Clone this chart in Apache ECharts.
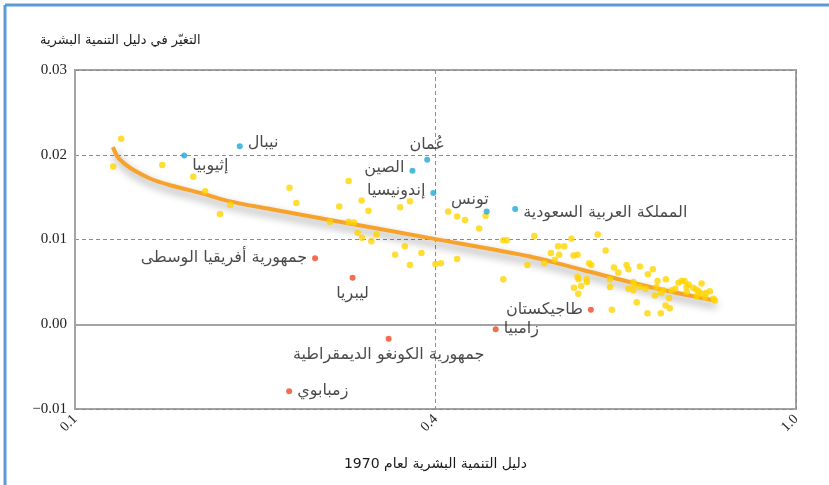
<!DOCTYPE html>
<html>
<head>
<meta charset="utf-8">
<script src="https://cdn.jsdelivr.net/npm/echarts@6/dist/echarts.min.js"></script>
<style>
  html, body { margin: 0; padding: 0; background: #fff; }
  #main { width: 829px; height: 485px; }
</style>
</head>
<body>
<div id="main"></div>
<script>
// x is read as a position on the axis: 0 = 0.1, 1 = 0.4, 2 = 1.0
const xTicks = ['0.1', '0.4', '1.0'];
const yTicks = [-0.01, 0, 0.01, 0.02, 0.03];

// other countries (yellow)
const otherX = [0.128, 0.106, 0.242, 0.328, 0.361, 0.431, 0.402, 0.595, 0.614, 0.759,
  0.733, 0.707, 0.759, 0.774, 0.784, 0.795, 0.814, 0.929, 0.902, 0.796,
  0.836, 0.822, 0.915, 0.888, 0.961, 0.929, 1.000, 1.015, 1.060, 1.035,
  1.060, 1.082, 1.139, 1.121, 1.188, 1.198, 1.274, 1.377, 1.450, 1.340,
  1.357, 1.320, 1.343, 1.331, 1.383, 1.394, 1.472, 1.302, 1.255, 1.426,
  1.432, 1.188, 1.394, 1.397, 1.419, 1.420, 1.384, 1.404, 1.396, 1.489,
  1.484, 1.484, 1.495, 1.507, 1.530, 1.535, 1.567, 1.603, 1.589, 1.549,
  1.551, 1.535, 1.549, 1.567, 1.583, 1.616, 1.639, 1.613, 1.609, 1.626,
  1.632, 1.655, 1.665, 1.674, 1.683, 1.691, 1.702, 1.696, 1.715, 1.723,
  1.730, 1.738, 1.738, 1.750, 1.761, 1.771, 1.775, 1.558, 1.648, 1.638,
  1.650, 1.588, 1.625, 1.724, 1.748, 1.697];
const otherY = [0.0219, 0.0186, 0.0188, 0.0174, 0.0157, 0.0141, 0.0130, 0.0161, 0.0143, 0.0169,
  0.0139, 0.0121, 0.0121, 0.0120, 0.0108, 0.0146, 0.0134, 0.0145, 0.0138, 0.0102,
  0.0106, 0.0098, 0.0092, 0.0082, 0.0084, 0.0070, 0.0071, 0.0072, 0.0077, 0.0133,
  0.0127, 0.0123, 0.0128, 0.0113, 0.0099, 0.0099, 0.0104, 0.0101, 0.0106, 0.0092,
  0.0092, 0.0084, 0.0082, 0.0076, 0.0081, 0.0082, 0.0087, 0.0072, 0.0070, 0.0072,
  0.0070, 0.0053, 0.0056, 0.0053, 0.0053, 0.0050, 0.0043, 0.0045, 0.0036, 0.0017,
  0.0053, 0.0044, 0.0067, 0.0061, 0.0070, 0.0065, 0.0068, 0.0065, 0.0059, 0.0050,
  0.0046, 0.0042, 0.0040, 0.0044, 0.0042, 0.0051, 0.0053, 0.0044, 0.0034, 0.0037,
  0.0040, 0.0040, 0.0042, 0.0049, 0.0051, 0.0051, 0.0047, 0.0044, 0.0043, 0.0041,
  0.0039, 0.0048, 0.0036, 0.0037, 0.0039, 0.0030, 0.0028, 0.0026, 0.0031, 0.0022,
  0.0019, 0.0013, 0.0013, 0.0033, 0.0032, 0.0038];

// countries above the trend (blue)
const highNames = ['نيبال', 'إثيوبيا', 'عُمان', 'الصين', 'إندونيسيا', 'تونس', 'المملكة العربية السعودية'];
const highX = [0.457, 0.303, 0.977, 0.936, 0.994, 1.142, 1.221];
const highY = [0.0210, 0.0199, 0.0194, 0.0181, 0.0155, 0.0133, 0.0136];

// countries below the trend (red)
const lowNames = ['جمهورية أفريقيا الوسطى', 'ليبريا', 'جمهورية الكونغو الديمقراطية', 'زمبابوي', 'زامبيا', 'طاجيكستان'];
const lowX = [0.666, 0.770, 0.870, 0.594, 1.167, 1.431];
const lowY = [0.0078, 0.0055, -0.0017, -0.0079, -0.0006, 0.0017];

// fitted trend line
const trendX = [0.105, 0.119, 0.139, 0.166, 0.208, 0.264, 0.347, 0.430, 0.541, 0.707, 0.993, 1.262, 1.409, 1.595, 1.775];
const trendY = [0.0209, 0.0197, 0.0189, 0.0181, 0.0172, 0.0164, 0.0155, 0.0145, 0.0136, 0.0123, 0.0101, 0.0080, 0.0064, 0.0044, 0.0028];

const labelPlace = {
  'نيبال': { position: 'right', offset: [0, -3] },
  'إثيوبيا': { position: 'right', offset: [0, 10] },
  'عُمان': { position: 'top', offset: [0, 1] },
  'الصين': { position: 'left', offset: [0, -3] },
  'إندونيسيا': { position: 'left', offset: [0, -2] },
  'تونس': { position: 'left', offset: [10, -12] },
  'المملكة العربية السعودية': { position: 'right', offset: [0, 4] },
  'جمهورية أفريقيا الوسطى': { position: 'left', offset: [0, 0] },
  'ليبريا': { position: 'bottom', offset: [0, 0] },
  'جمهورية الكونغو الديمقراطية': { position: 'bottom', offset: [0, 0] },
  'زمبابوي': { position: 'right', offset: [0, 0] },
  'زامبيا': { position: 'right', offset: [0, 0] },
  'طاجيكستان': { position: 'left', offset: [0, 0] }
};

const labelFont = { fontFamily: 'DejaVu Sans', fontSize: 16, color: '#1a1a1a' };

function named(names, xs, ys) {
  return names.map(function (n, i) {
    return {
      name: n,
      value: [xs[i], ys[i]],
      label: Object.assign({ show: true, formatter: '{b}', distance: 5 }, labelFont, labelPlace[n])
    };
  });
}

const myChart = echarts.init(document.getElementById('main'));

const option = {
  backgroundColor: '#fff',
  animation: false,
  grid: {
    left: 75, right: 33, top: 70, bottom: 76,
    show: true, borderColor: '#a3a3a3', borderWidth: 2
  },
  graphic: [
    { type: 'line', shape: { x1: 5, y1: 5, x2: 829, y2: 5 }, style: { stroke: '#5b9bd5', lineWidth: 3 } },
    { type: 'line', shape: { x1: 5, y1: 5, x2: 5, y2: 485 }, style: { stroke: '#5b9bd5', lineWidth: 3 } },
    {
      type: 'text', left: 40, top: 34,
      style: { text: 'التغيّر في دليل التنمية البشرية', font: '13px "DejaVu Sans"', fill: '#1a1a1a' }
    }
  ],
  xAxis: {
    type: 'value',
    min: 0, max: 2, interval: 1,
    name: 'دليل التنمية البشرية لعام 1970',
    nameLocation: 'middle',
    nameGap: 48,
    nameTextStyle: { fontFamily: 'DejaVu Sans', fontSize: 14, color: '#1a1a1a' },
    axisLine: { show: true, lineStyle: { color: '#a3a3a3', width: 2 } },
    axisTick: { show: false },
    axisLabel: {
      rotate: 45, margin: 8,
      fontFamily: 'Liberation Sans Narrow', fontSize: 14, color: '#222',
      formatter: function (v) { return xTicks[Math.round(v)] || ''; }
    },
    splitLine: { show: true, lineStyle: { color: '#8c8c8c', type: [4, 3], width: 1 } }
  },
  yAxis: {
    type: 'value',
    min: -0.01, max: 0.03, interval: 0.01,
    axisLine: { show: true, lineStyle: { color: '#a3a3a3', width: 2 } },
    axisTick: { show: false },
    axisLabel: {
      margin: 8,
      fontFamily: 'Liberation Sans Narrow', fontSize: 15, color: '#222',
      formatter: function (v) {
        const t = yTicks.find(function (k) { return Math.abs(k - v) < 1e-9; });
        return (t === undefined ? v : t).toFixed(2).replace('-', '\u2212');
      }
    },
    splitLine: { show: true, lineStyle: { color: '#8c8c8c', type: [4, 3], width: 1 } }
  },
  series: [
    {
      name: 'trend',
      type: 'line',
      smooth: 0.3,
      showSymbol: false,
      z: 3,
      data: trendX.map(function (x, i) { return [x, trendY[i]]; }),
      lineStyle: {
        color: '#f6a22b', width: 4,
        shadowColor: 'rgba(0,0,0,0.4)', shadowBlur: 8, shadowOffsetX: 2, shadowOffsetY: 5
      }
    },
    {
      name: 'other',
      type: 'scatter',
      symbolSize: 6.5,
      z: 4,
      itemStyle: { color: '#ffd400' },
      data: otherX.map(function (x, i) { return [x, otherY[i]]; })
    },
    {
      name: 'high',
      type: 'scatter',
      symbolSize: 6,
      z: 5,
      itemStyle: { color: '#1ea8d8' },
      data: named(highNames, highX, highY)
    },
    {
      name: 'low',
      type: 'scatter',
      symbolSize: 6,
      z: 5,
      itemStyle: { color: '#ee4a25' },
      data: named(lowNames, lowX, lowY)
    }
  ]
};

myChart.setOption(option);
</script>
</body>
</html>
